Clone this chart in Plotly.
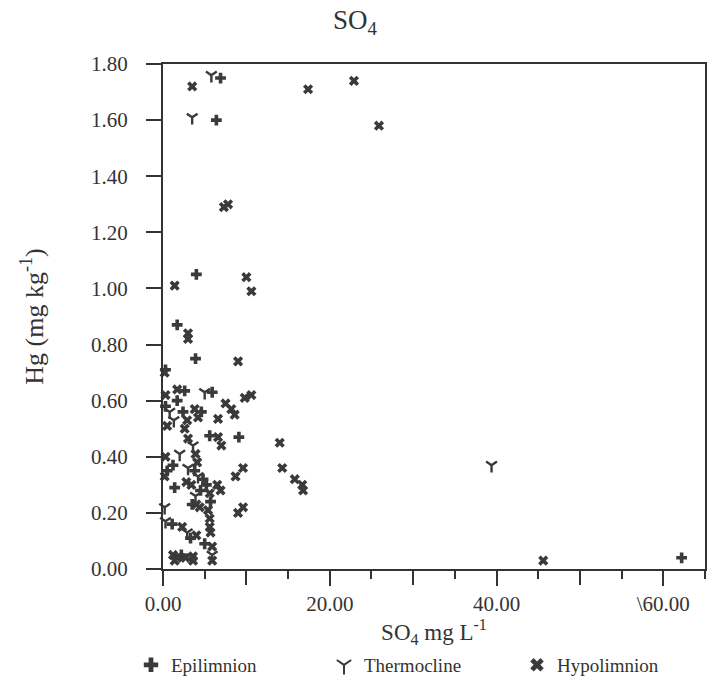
import plotly.graph_objects as go

# ---- data ----
epi_x = [1.7, 3.9, 4.0, 6.4, 6.9, 62.2, 9.1, 5.9, 2.6, 1.7, 1.4, 1.1, 5.0, 3.8, 5.7,
         3.5, 1.2, 4.6, 4.8, 2.2, 0.3, 4.5, 5.6, 2.4, 0.5, 3.3, 0.3, 5.2]
epi_y = [0.87, 0.75, 1.05, 1.60, 1.75, 0.04, 0.47, 0.63, 0.635, 0.60, 0.29, 0.16, 0.09, 0.35, 0.24,
         0.23, 0.37, 0.56, 0.32, 0.05, 0.58, 0.28, 0.475, 0.56, 0.35, 0.11, 0.71, 0.30]

thermo_x = [3.5, 5.8, 39.4, 5.0, 3.0, 0.8, 2.0, 4.2, 3.9, 1.3, 0.2, 2.9, 5.9, 3.6, 0.3]
thermo_y = [1.61, 1.76, 0.37, 0.63, 0.36, 0.56, 0.41, 0.33, 0.26, 0.53, 0.22, 0.13, 0.05, 0.44, 0.17]

hypo_x = [3.5, 17.4, 22.9, 25.9, 7.3, 7.8, 10.0, 10.6, 1.4, 3.0, 3.0, 9.0, 0.2, 1.7, 7.5,
          8.2, 8.6, 9.8, 10.6, 2.9, 2.6, 3.8, 4.2, 6.6, 0.5, 6.6, 7.0, 3.0, 3.9, 4.1,
          0.3, 14.0, 14.3, 15.8, 16.7, 16.8, 8.7, 9.6, 0.2, 3.4, 5.6, 6.5, 6.9, 2.8, 4.0,
          4.4, 5.4, 9.0, 9.6, 5.6, 5.6, 5.7, 2.3, 4.0, 5.9, 5.9, 1.2, 1.7, 2.7, 1.4,
          3.6, 3.6, 45.6, 0.3]
hypo_y = [1.72, 1.71, 1.74, 1.58, 1.29, 1.30, 1.04, 0.99, 1.01, 0.84, 0.82, 0.74, 0.70, 0.64, 0.59,
          0.57, 0.55, 0.61, 0.62, 0.53, 0.50, 0.57, 0.54, 0.535, 0.51, 0.47, 0.44, 0.465, 0.41, 0.38,
          0.40, 0.45, 0.36, 0.32, 0.30, 0.28, 0.33, 0.36, 0.33, 0.30, 0.27, 0.30, 0.28, 0.31, 0.23,
          0.22, 0.21, 0.20, 0.22, 0.18, 0.15, 0.13, 0.15, 0.12, 0.08, 0.03, 0.05, 0.04, 0.04, 0.03,
          0.045, 0.03, 0.03, 0.62]

x_tickvals = [0, 20, 40, 60]
x_ticktext = ["0.00", "20.00", "40.00", "\\60.00"]
x_longvals = [10, 30, 50]          # long ticks without labels
x_minorvals = [5, 15, 25, 35, 45, 55, 65]
y_tickvals = [0.0, 0.2, 0.4, 0.6, 0.8, 1.0, 1.2, 1.4, 1.6, 1.8]
y_ticktext = ["0.00", "0.20", "0.40", "0.60", "0.80", "1.00", "1.20", "1.40", "1.60", "1.80"]

INK = "#3a3a3a"
AX = "#333333"
FONT = "Liberation Serif"

fig = go.Figure()
fig.add_trace(go.Scatter(
    x=epi_x, y=epi_y, mode="markers", name="Epilimnion", cliponaxis=False,
    marker=dict(symbol="cross", size=9, color=INK, line=dict(width=0))))
fig.add_trace(go.Scatter(
    x=thermo_x, y=thermo_y, mode="markers", name="Thermocline", cliponaxis=False,
    marker=dict(symbol="y-down", size=9, color=INK, line=dict(width=2.4, color=INK))))
fig.add_trace(go.Scatter(
    x=hypo_x, y=hypo_y, mode="markers", name="Hypolimnion", cliponaxis=False,
    marker=dict(symbol="x", size=9, color=INK, line=dict(width=0))))
# empty helper trace so the unlabeled long-tick axis is drawn
fig.add_trace(go.Scatter(x=[], y=[], xaxis="x2", yaxis="y", showlegend=False,
                         hoverinfo="skip"))

fig.update_layout(
    width=710, height=689,
    margin=dict(l=163, r=3, t=64, b=120),
    paper_bgcolor="white", plot_bgcolor="white",
    font=dict(family=FONT, color=AX, size=21),
    title=dict(text="SO<sub>4</sub>", x=0.5, xref="container", xanchor="center",
               y=1 - 20 / 689, yref="container", yanchor="middle",
               font=dict(family=FONT, size=27, color=AX)),
    showlegend=True,
    legend=dict(orientation="h", x=-0.045, xanchor="left", y=-0.19, yanchor="middle",
                font=dict(family=FONT, size=19, color=AX),
                entrywidth=148, entrywidthmode="pixels",
                bgcolor="rgba(0,0,0,0)", itemsizing="constant"),
    xaxis2=dict(overlaying="x", matches="x", side="bottom", anchor="y",
                range=[0, 65], showgrid=False, zeroline=False, showline=False,
                tickmode="array", tickvals=x_longvals, showticklabels=False,
                ticks="outside", ticklen=15, tickwidth=2, tickcolor=AX),
)

fig.update_xaxes(
    selector=dict(anchor="y", overlaying=None),
)
fig.layout.xaxis.update(
    range=[0, 65], showgrid=False, zeroline=False,
    showline=True, linecolor=AX, linewidth=2, mirror=True,
    tickmode="array", tickvals=x_tickvals, ticktext=x_ticktext,
    ticks="outside", ticklen=15, tickwidth=2, tickcolor=AX,
    tickfont=dict(family=FONT, size=21, color=AX),
    minor=dict(tickmode="array", tickvals=x_minorvals, ticks="outside",
               ticklen=8, tickwidth=2, tickcolor=AX, showgrid=False),
    title=dict(text="SO<sub>4</sub> mg L<sup>-1</sup>", standoff=8,
               font=dict(family=FONT, size=23, color=AX)),
)
fig.update_yaxes(
    range=[0, 1.8], showgrid=False, zeroline=False,
    showline=True, linecolor=AX, linewidth=2, mirror=True,
    tickmode="array", tickvals=y_tickvals, ticktext=y_ticktext,
    ticks="outside", ticklen=15, tickwidth=2, tickcolor=AX,
    ticklabelstandoff=14,
    tickfont=dict(family=FONT, size=21, color=AX),
    title=dict(text="Hg (mg kg<sup>-1</sup>)", standoff=40,
               font=dict(family=FONT, size=26, color=AX)),
)

fig.write_html("out.html")
